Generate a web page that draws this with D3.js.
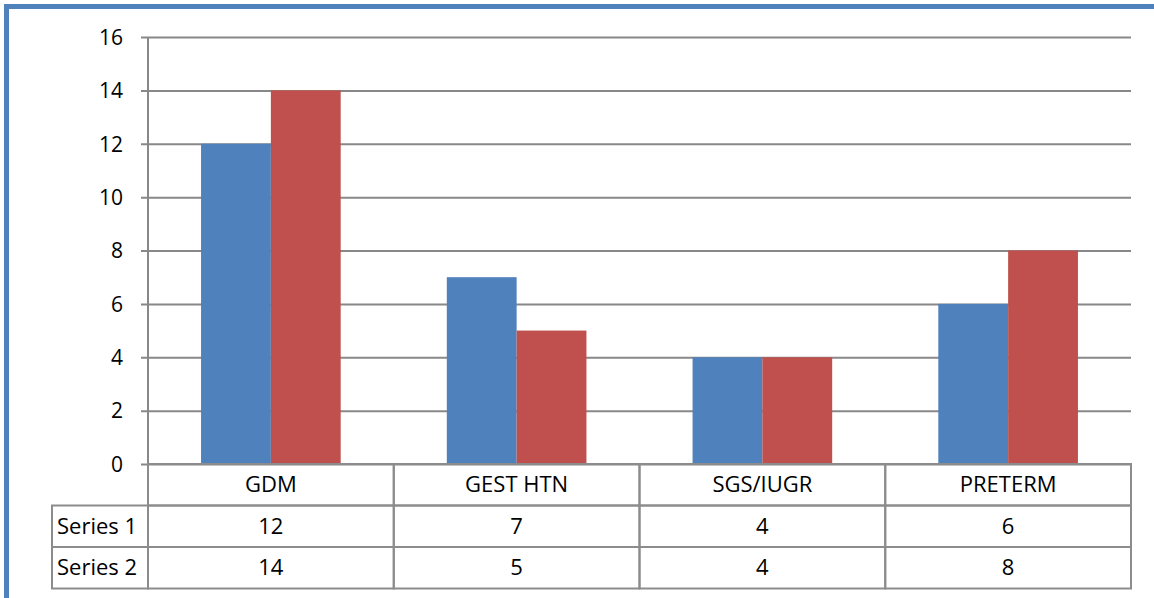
<!DOCTYPE html>
<html>
<head>
<meta charset="utf-8">
<script src="https://cdnjs.cloudflare.com/ajax/libs/d3/7.8.5/d3.min.js"></script>
<style>
  body { margin: 0; background: #fff; }
  text { font-family: "Open Sans", "Noto Sans", sans-serif; fill: #000; }
</style>
</head>
<body>
<div id="viz"></div>
<script>
// data
var categories = ["GDM", "GEST HTN", "SGS/IUGR", "PRETERM"];
var seriesNames = ["Series 1", "Series 2"];
var series1 = [12, 7, 4, 6];
var series2 = [14, 5, 4, 8];
var yTicks = [0, 2, 4, 6, 8, 10, 12, 14, 16];

var color = d3.scaleOrdinal()
    .domain(seriesNames)
    .range(["#4F81BD", "#C0504D"]);

var W = 1154, H = 598;
var plot = {left: 148, right: 1131, top: 37, bottom: 464};
var rowH = 41.5;
var labelLeft = 52;

var svg = d3.select("#viz").append("svg")
    .attr("width", W)
    .attr("height", H);

// blue frame (page border)
svg.append("line")
    .attr("x1", 4).attr("x2", W).attr("y1", 6.5).attr("y2", 6.5)
    .attr("stroke", "#4F81BD").attr("stroke-width", 5);
svg.append("line")
    .attr("x1", 6.5).attr("x2", 6.5).attr("y1", 4).attr("y2", H)
    .attr("stroke", "#4F81BD").attr("stroke-width", 5);

// scales
var yScale = d3.scaleLinear()
    .domain([0, 16])
    .range([plot.bottom, plot.top]);
var xScale = d3.scaleBand()
    .domain(categories)
    .range([plot.left, plot.right]);
var xInner = d3.scaleBand()
    .domain(seriesNames)
    .range([0, xScale.bandwidth()])
    .paddingOuter(0.76);

// gridlines + y axis
var yAxis = d3.axisLeft(yScale)
    .tickValues(yTicks)
    .tickSize(-(plot.right - plot.left + 7))
    .tickPadding(18)
    .tickFormat(d3.format("d"));

var gy = svg.append("g")
    .attr("transform", "translate(" + (plot.left - 7) + ",0)")
    .call(yAxis);
gy.select(".domain").remove();
gy.selectAll(".tick line")
    .attr("stroke", "#888")
    .attr("stroke-width", 2);
gy.selectAll(".tick text")
    .attr("font-size", "21px")
    .attr("dy", "0.35em");

// vertical axis line
svg.append("line")
    .attr("x1", plot.left).attr("x2", plot.left)
    .attr("y1", plot.top).attr("y2", plot.bottom)
    .attr("stroke", "#888").attr("stroke-width", 2);

// bars
var rows = seriesNames.map(function(s, i) {
    return {name: s, values: i == 0 ? series1 : series2};
});

rows.forEach(function(row) {
    svg.selectAll(".bar-" + row.name.replace(" ", ""))
        .data(row.values)
        .enter()
        .append("rect")
        .attr("x", function(d, i) { return xScale(categories[i]) + xInner(row.name); })
        .attr("y", function(d) { return yScale(d); })
        .attr("width", xInner.bandwidth())
        .attr("height", function(d) { return plot.bottom - yScale(d); })
        .attr("fill", color(row.name));
});

// data table
var tbl = svg.append("g").attr("class", "table");
var gridStroke = "#8c8c8c";

// header row (category names)
tbl.selectAll(".hcell")
    .data(categories)
    .enter()
    .append("rect")
    .attr("x", function(d) { return xScale(d); })
    .attr("y", plot.bottom)
    .attr("width", xScale.bandwidth())
    .attr("height", rowH)
    .attr("fill", "none")
    .attr("stroke", gridStroke)
    .attr("stroke-width", 2);

tbl.selectAll(".htext")
    .data(categories)
    .enter()
    .append("text")
    .attr("x", function(d) { return xScale(d) + xScale.bandwidth() / 2; })
    .attr("y", plot.bottom + rowH / 2)
    .attr("dy", "0.35em")
    .attr("text-anchor", "middle")
    .attr("font-size", "22px")
    .text(function(d) { return d; });

// series rows
rows.forEach(function(row, r) {
    var y0 = plot.bottom + rowH * (r + 1);
    var g = tbl.append("g");

    g.append("rect")
        .attr("x", labelLeft)
        .attr("y", y0)
        .attr("width", plot.left - labelLeft)
        .attr("height", rowH)
        .attr("fill", "none")
        .attr("stroke", gridStroke)
        .attr("stroke-width", 2);
    g.append("text")
        .attr("x", labelLeft + 5)
        .attr("y", y0 + rowH / 2)
        .attr("dy", "0.35em")
        .attr("font-size", "22px")
        .text(row.name);

    g.selectAll(".cell")
        .data(row.values)
        .enter()
        .append("rect")
        .attr("x", function(d, i) { return xScale(categories[i]); })
        .attr("y", y0)
        .attr("width", xScale.bandwidth())
        .attr("height", rowH)
        .attr("fill", "none")
        .attr("stroke", gridStroke)
        .attr("stroke-width", 2);
    g.selectAll(".ctext")
        .data(row.values)
        .enter()
        .append("text")
        .attr("x", function(d, i) { return xScale(categories[i]) + xScale.bandwidth() / 2; })
        .attr("y", y0 + rowH / 2)
        .attr("dy", "0.35em")
        .attr("text-anchor", "middle")
        .attr("font-size", "22px")
        .text(function(d) { return d; });
});
</script>
</body>
</html>
